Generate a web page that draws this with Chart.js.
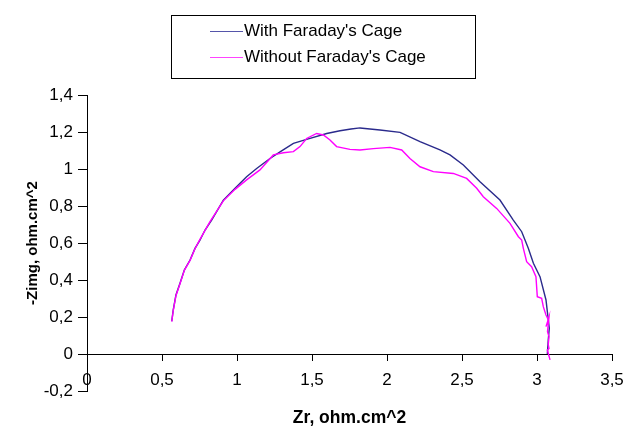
<!DOCTYPE html>
<html><head><meta charset="utf-8">
<script src="https://cdn.jsdelivr.net/npm/chart.js@4/dist/chart.umd.min.js"></script>
<style>html,body{margin:0;padding:0;background:#fff}</style>
</head><body>
<canvas id="c" width="627" height="432" style="display:block;width:627px;height:432px"></canvas>
<script>
const seriesNames = ["With Faraday's Cage", "Without Faraday's Cage"];
const seriesColors = ["#2a2a8c", "#ff00ff"];
const legendColors = ["#5555aa", "#ff44ff"];

const withZr   = [0.565,0.575,0.593,0.62,0.649,0.687,0.72,0.753,0.787,0.831,0.909,0.987,1.064,1.131,1.22,1.287,1.376,1.464,1.598,1.687,1.76,1.82,1.953,2.087,2.22,2.353,2.42,2.509,2.62,2.753,2.842,2.898,2.92,2.942,2.976,3.02,3.06,3.069,3.082,3.075,3.069];
const withZimg = [0.178,0.238,0.319,0.382,0.454,0.508,0.571,0.615,0.67,0.724,0.832,0.896,0.958,1.003,1.057,1.093,1.139,1.16,1.192,1.207,1.216,1.222,1.211,1.198,1.148,1.103,1.076,1.022,0.931,0.832,0.724,0.661,0.616,0.571,0.49,0.418,0.292,0.229,0.139,0.076,0.0];

const withoutZr   = [0.565,0.575,0.593,0.62,0.649,0.687,0.72,0.753,0.82,0.909,0.987,1.064,1.153,1.242,1.309,1.376,1.42,1.464,1.531,1.576,1.62,1.664,1.753,1.82,1.909,2.02,2.098,2.153,2.22,2.309,2.442,2.531,2.598,2.642,2.731,2.82,2.876,2.898,2.909,2.931,2.964,2.993,3.002,3.031,3.042,3.06,3.076,3.06,3.08,3.07,3.08,3.075,3.08,3.069,3.087];
const withoutZimg = [0.175,0.235,0.315,0.38,0.452,0.506,0.569,0.62,0.715,0.828,0.89,0.941,0.995,1.076,1.088,1.094,1.121,1.165,1.192,1.184,1.157,1.121,1.106,1.103,1.11,1.117,1.103,1.057,1.012,0.986,0.976,0.949,0.896,0.85,0.787,0.706,0.634,0.616,0.571,0.499,0.472,0.418,0.31,0.301,0.256,0.211,0.184,0.148,0.2,0.12,0.094,0.05,0.03,0.022,-0.032];

const xTickMin = 0, xTickMax = 3.5, xTickStep = 0.5;
const yTickMin = -0.2, yTickMax = 1.4, yTickStep = 0.2;
const xTitle = "Zr, ohm.cm^2";
const yTitle = "-Zimg, ohm.cm^2";

const fmt = v => { const r = Math.round(v * 10) / 10; return String(r).replace('.', ','); };
const toPts = (xs, ys) => xs.map((x, i) => ({x: x, y: ys[i]}));

const boxLegend = {
  id: 'boxLegend',
  afterDraw(chart) {
    const ctx = chart.ctx;
    ctx.save();
    ctx.strokeStyle = '#000';
    ctx.lineWidth = 1;
    ctx.strokeRect(171.5, 15.5, 304, 63);
    ctx.font = '17px "Liberation Sans", Arial, sans-serif';
    ctx.textBaseline = 'middle';
    ctx.textAlign = 'left';
    const rows = [31, 57];
    chart.data.datasets.forEach((ds, i) => {
      ctx.strokeStyle = legendColors[i];
      ctx.lineWidth = 1.2;
      ctx.beginPath();
      ctx.moveTo(210, rows[i] + 0.5);
      ctx.lineTo(243, rows[i] + 0.5);
      ctx.stroke();
      ctx.fillStyle = '#000';
      ctx.fillText(ds.label, 244, rows[i]);
    });
    ctx.restore();
  }
};

new Chart(document.getElementById('c'), {
  type: 'scatter',
  data: {
    datasets: [
      {label: seriesNames[0], data: toPts(withZr, withZimg), borderColor: seriesColors[0], backgroundColor: seriesColors[0], showLine: true, borderWidth: 1.4, pointRadius: 0, tension: 0, order: 2},
      {label: seriesNames[1], data: toPts(withoutZr, withoutZimg), borderColor: seriesColors[1], backgroundColor: seriesColors[1], showLine: true, borderWidth: 1.4, pointRadius: 0, tension: 0, order: 1}
    ]
  },
  options: {
    responsive: false,
    animation: false,
    devicePixelRatio: 1,
    layout: {padding: {left: 0, top: 95, right: 15, bottom: 41}},
    plugins: {legend: {display: false}, tooltip: {enabled: false}},
    scales: {
      x: {
        type: 'linear',
        position: {y: 0},
        min: xTickMin, max: xTickMax,
        afterFit: s => { s.paddingRight = 0; s.paddingLeft = 0; },
        ticks: {stepSize: xTickStep, callback: v => fmt(v), color: '#000', padding: 10, maxRotation: 0,
                font: {family: '"Liberation Sans", Arial, sans-serif', size: 17}},
        grid: {drawOnChartArea: false, drawTicks: true, tickLength: 6, color: '#000', lineWidth: 1},
        border: {display: true, color: '#000', width: 1},
        title: {display: true, text: xTitle, color: '#000', padding: {top: 7, bottom: 0},
                font: {family: '"Liberation Sans", Arial, sans-serif', size: 17.5, weight: 'bold'}}
      },
      y: {
        type: 'linear',
        position: 'left',
        min: yTickMin, max: yTickMax,
        afterFit: s => { s.width = 87; },
        ticks: {stepSize: yTickStep, callback: v => fmt(v), color: '#000', padding: 5,
                font: {family: '"Liberation Sans", Arial, sans-serif', size: 17}},
        grid: {drawOnChartArea: false, drawTicks: true, tickLength: 9, color: '#000', lineWidth: 1},
        border: {display: true, color: '#000', width: 1},
        title: {display: true, text: yTitle, color: '#000', padding: {top: 24, bottom: 0},
                font: {family: '"Liberation Sans", Arial, sans-serif', size: 15, weight: 'bold'}}
      }
    }
  },
  plugins: [boxLegend]
});
</script>
</body></html>
